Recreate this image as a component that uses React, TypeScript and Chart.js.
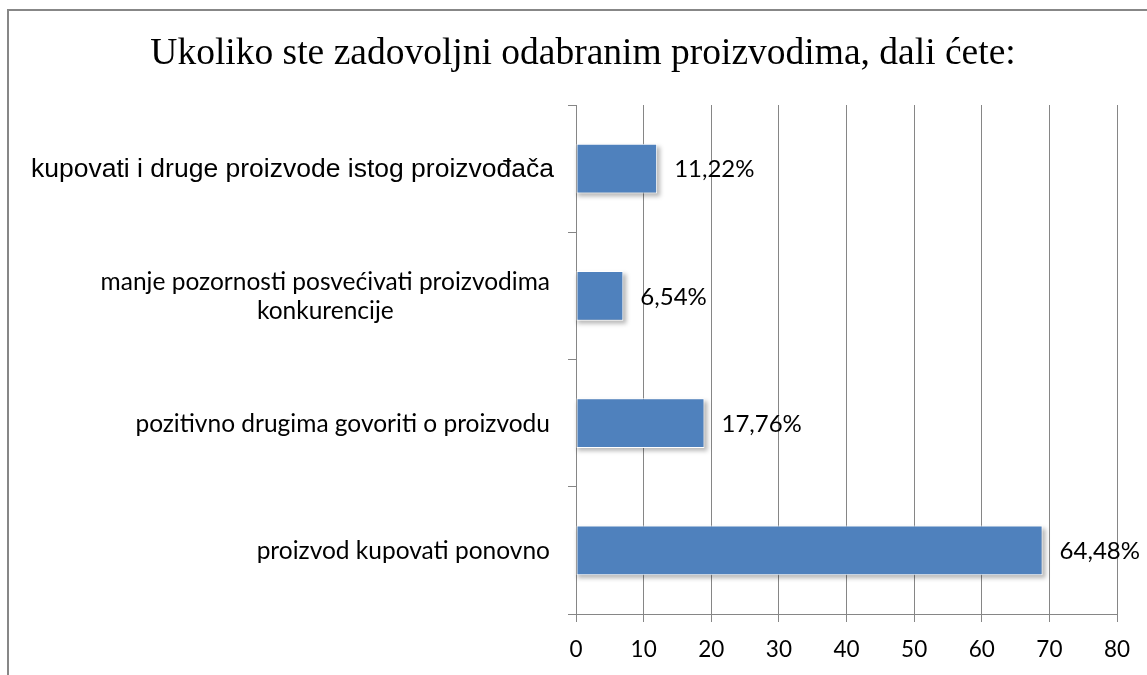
import React, { useEffect, useRef } from "react";
import { Chart, registerables } from "chart.js";

Chart.register(...registerables);

const titleText = "Ukoliko ste zadovoljni odabranim proizvodima, dali ćete:";
const categories: string[][] = [
  ["kupovati i druge proizvode istog proizvođača"],
  ["manje pozornosti posvećivati proizvodima", "konkurencije"],
  ["pozitivno drugima govoriti o proizvodu"],
  ["proizvod kupovati ponovno"],
];
const barValues = [12, 7, 19, 69];
const valueLabels = ["11,22%", "6,54%", "17,76%", "64,48%"];
const xMin = 0;
const xMax = 80;
const xStep = 10;

const CAL = "Lato, 'Open Sans', sans-serif";
const ARIAL = "'Liberation Sans', Arial, sans-serif";
const SERIF = "'Liberation Serif', 'Times New Roman', serif";
const GRID = "#868686";

const W = 1138;
const H = 664;

const labelPlugin = {
  id: "customLabels",
  beforeDatasetsDraw(chart: any) {
    const ctx = chart.ctx;
    const meta = chart.getDatasetMeta(0);
    ctx.save();
    ctx.fillStyle = "rgba(0,0,0,0.28)";
    ctx.filter = "blur(2px)";
    meta.data.forEach((el: any) => {
      const left = Math.min(el.base, el.x);
      const w = Math.abs(el.x - el.base);
      ctx.fillRect(left + 1, el.y - el.height / 2 + 3, w + 2, el.height);
    });
    ctx.restore();
  },
  afterDraw(chart: any) {
    const ctx = chart.ctx;
    const yScale = chart.scales.y;
    const meta = chart.getDatasetMeta(0);
    ctx.save();
    ctx.fillStyle = "#000";
    ctx.textBaseline = "middle";
    // title
    ctx.font = `37.5px ${SERIF}`;
    ctx.textAlign = "center";
    ctx.fillText(titleText, 574, 43);
    // value labels
    ctx.font = `24px ${CAL}`;
    ctx.textAlign = "left";
    meta.data.forEach((el: any, i: number) => {
      ctx.fillText(valueLabels[i], el.x + 17, el.y + 1);
    });
    // category labels
    const right = yScale.right - 26;
    categories.forEach((lines, i) => {
      ctx.font = i === 0 ? `26.5px ${ARIAL}` : `24.5px ${CAL}`;
      const y = yScale.getPixelForValue(i);
      const lh = 29;
      const maxW = Math.max(...lines.map((l) => ctx.measureText(l).width));
      const cx = (i === 0 ? right + 4 : right) - maxW / 2;
      ctx.textAlign = "center";
      lines.forEach((l, k) => {
        ctx.fillText(l, cx, y + 1 + (k - (lines.length - 1) / 2) * lh);
      });
    });
    ctx.restore();
  },
};

export default function App() {
  const ref = useRef<HTMLCanvasElement>(null);
  useEffect(() => {
    if (!ref.current) return;
    const chart = new Chart(ref.current, {
      type: "bar",
      data: {
        labels: categories.map((c) => c.join(" ")),
        datasets: [
          {
            data: barValues,
            backgroundColor: "#4F81BD",
            borderColor: "#FFFFFF",
            borderWidth: 1,
            borderSkipped: false,
            categoryPercentage: 0.39,
            barPercentage: 1,
          },
        ],
      },
      options: {
        indexAxis: "y",
        animation: false,
        responsive: false,
        devicePixelRatio: 1,
        layout: { padding: { left: 0, right: 30, top: 94, bottom: 0 } },
        plugins: {
          legend: { display: false },
          tooltip: { enabled: false },
          title: { display: false },
        },
        scales: {
          x: {
            type: "linear",
            min: xMin,
            max: xMax,
            ticks: { stepSize: xStep, color: "#000", font: { family: CAL, size: 22.5 }, padding: 14 },
            grid: { color: GRID, tickLength: 8, drawTicks: true },
            border: { color: GRID },
            afterFit: (s: any) => {
              s.height = 61;
            },
          },
          y: {
            type: "category",
            ticks: { display: false },
            grid: { color: GRID, drawOnChartArea: false, drawTicks: true, tickLength: 8, offset: true },
            border: { color: GRID },
            afterFit: (s: any) => {
              s.width = 567;
            },
          },
        },
      },
      plugins: [labelPlugin],
    } as any);
    return () => chart.destroy();
  }, []);
  return (
    <div
      style={{
        position: "fixed",
        left: 7,
        top: 9,
        width: 1150,
        height: 700,
        borderLeft: "2px solid #878787",
        borderTop: "2px solid #878787",
        background: "#fff",
      }}
    >
      <canvas ref={ref} width={W} height={H} style={{ display: "block", width: W, height: H }} />
    </div>
  );
}
